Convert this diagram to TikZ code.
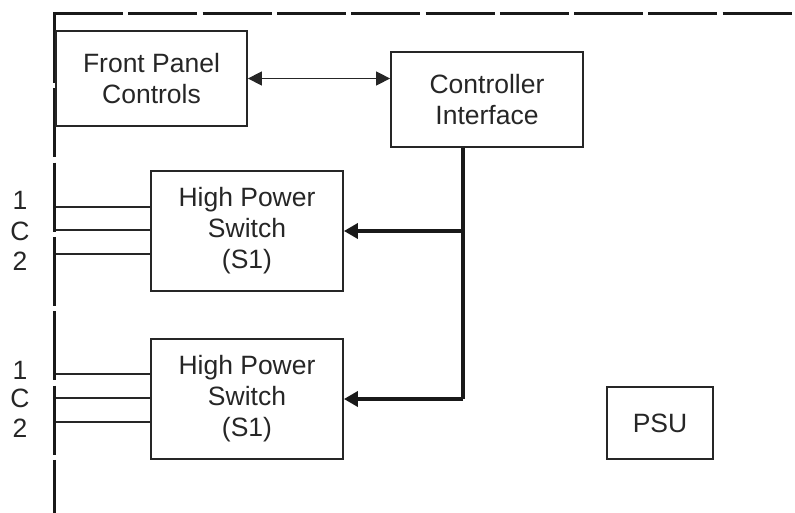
\documentclass[tikz,border=0pt]{standalone}
\usepackage{fontspec}
\setmainfont{Liberation Sans}
\usetikzlibrary{arrows.meta}
\begin{document}
\begin{tikzpicture}[x=1pt,y=-1pt,
  box/.style={draw=black!85,line width=1.8pt,inner sep=0pt,align=center,
    font=\fontsize{26.5}{31}\selectfont,text=black!85},
  lbl/.style={inner sep=0pt,font=\fontsize{26.5}{31}\selectfont,text=black!85},
  frame/.style={line width=3pt,draw=black!90,dash pattern=on 69pt off 5.3pt},
  thin/.style={line width=1.5pt,draw=black!85},
  bus/.style={line width=4pt,draw=black!90},
  tip/.style={-{Triangle[length=14pt,width=15pt]}}
]
\useasboundingbox (0,0) rectangle (795,513);
% enclosure frame
\coordinate (corner) at (54,14);
\coordinate (fbot) at (54,520);
\coordinate (fright) at (800,14);
\draw[frame] (corner) -- (fbot);
\draw[frame] (corner) -- (fright);
\fill[black!90] (52.5,12.5) rectangle (55.5,15.5);
% boxes
\node[box,minimum width=191pt,minimum height=95pt] (fp) at (151.5,78.5) {Front Panel\\Controls};
\node[box,minimum width=192pt,minimum height=95pt] (ci) at (487,99.5) {Controller\\Interface};
\node[box,minimum width=192pt,minimum height=120pt] (hps1) at (247,231) {High Power\\Switch\\(S1)};
\node[box,minimum width=192pt,minimum height=120pt] (hps2) at (247,399) {High Power\\Switch\\(S1)};
\node[box,minimum width=106pt,minimum height=72pt] (psu) at (660,423) {PSU};
% front panel <-> controller
\draw[thin,{Triangle[length=14pt,width=14pt]}-{Triangle[length=14pt,width=14pt]}] (fp.east) -- (fp.east -| ci.west);
% bus
\coordinate (b1) at (463,231);
\coordinate (b2) at (463,399);
\draw[bus] (ci.south -| b1) -- (b2);
\draw[bus,tip] (b1) -- (hps1.east);
\draw[bus,tip] (b2) -- (hps2.east);
% connector lines
\foreach \n/\yy in {1/207,2/230,3/254}{
  \coordinate (a\n) at (56,\yy);
  \draw[thin] (a\n) -- (a\n -| hps1.west);
}
\foreach \n/\yy in {4/374,5/398,6/422}{
  \coordinate (a\n) at (56,\yy);
  \draw[thin] (a\n) -- (a\n -| hps2.west);
}
% labels
\node[lbl] (l1) at (20,200) {1};
\node[lbl] (lc) at (20,231) {C};
\node[lbl] (l2) at (20,261) {2};
\node[lbl] (l3) at (20,370) {1};
\node[lbl] (l4) at (20,398) {C};
\node[lbl] (l5) at (20,428) {2};
\end{tikzpicture}
\end{document}
